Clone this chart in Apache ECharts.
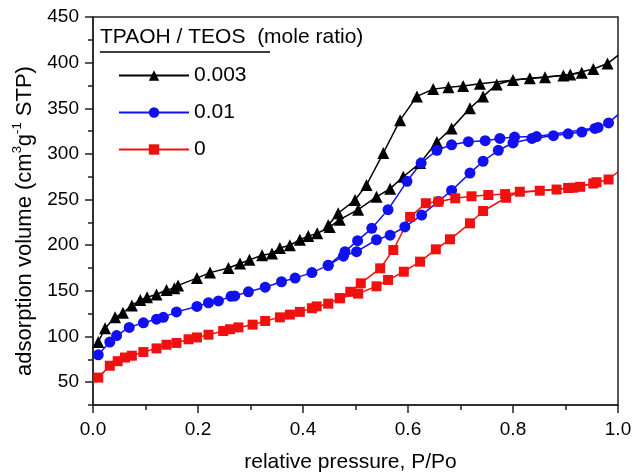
<!DOCTYPE html>
<html>
<head>
<meta charset="utf-8">
<script src="https://cdn.jsdelivr.net/npm/echarts@6/dist/echarts.min.js"></script>
<style>html,body{margin:0;padding:0;background:#fff;}#c{width:633px;height:472px;}</style>
</head>
<body>
<div id="c"></div>
<script>
// ---- data (relative pressure P/Po, adsorbed volume cm3/g STP) ----
const legendNames = ['0.003', '0.01', '0'];
const xTickLabels = ['0.0', '0.2', '0.4', '0.6', '0.8', '1.0'];
const yTickLabels = [50, 100, 150, 200, 250, 300, 350, 400, 450];

// TPAOH/TEOS = 0.003 (black triangles)
const pBlackAds = [0.010,0.023,0.042,0.057,0.074,0.090,0.103,0.121,0.140,0.155,0.162,0.198,0.223,0.258,0.280,0.298,0.322,0.341,0.356,0.375,0.394,0.410,0.427,0.451,0.470,0.505,0.540,0.566,0.591,0.623,0.655,0.683,0.718,0.743,0.769,0.800,0.861,0.909,0.953,0.980,1.000];
const vBlackAds = [94,109,121,126,134,140,143,146,151,153,156,164,170,175,180,184,189,191,197,200,206,210,213,220,228,239,253,262,275,290,313,328,350,363,376,381,384,387,393,399,408];
const pBlackDes = [0.931,0.896,0.832,0.737,0.705,0.677,0.648,0.617,0.585,0.553,0.521,0.499,0.467,0.448];
const vBlackDes = [389,386,383,377,374.5,373,371,363,337,301,266,249.5,235,222];

// TPAOH/TEOS = 0.01 (blue circles)
const pBlueAds = [0.010,0.032,0.045,0.069,0.096,0.121,0.134,0.159,0.198,0.220,0.239,0.263,0.270,0.296,0.328,0.359,0.385,0.417,0.448,0.477,0.502,0.540,0.566,0.594,0.626,0.658,0.683,0.718,0.743,0.772,0.800,0.836,0.877,0.905,0.931,0.956,0.982,1.000];
const vBlueAds = [80,94,101,110,115,119,121,127,133,137,139,144,144.5,149,154,160,164,170,178,188,193,206,211,220,233,248,260,279,292,304,312,317,320,322,324,328,334,343];
const pBlueDes = [0.962,0.845,0.803,0.775,0.747,0.715,0.683,0.655,0.625,0.598,0.562,0.531,0.504,0.480,0.448];
const vBlueDes = [329,319,318.5,317,314.5,313.4,310,304,290,270,239,218.5,205,193,178];

// TPAOH/TEOS = 0 (red squares)
const pRedAds = [0.010,0.032,0.047,0.061,0.074,0.096,0.121,0.140,0.159,0.182,0.198,0.220,0.248,0.261,0.277,0.304,0.328,0.356,0.375,0.394,0.417,0.426,0.448,0.470,0.505,0.540,0.562,0.592,0.623,0.653,0.680,0.718,0.743,0.787,0.813,0.851,0.883,0.915,0.953,0.982,1.000];
const vRedAds = [55,68,73,77,79,83,87,91,93,97,99,102,106,108,110,113,117,121,124,127,131,133,136,142,147,155,162,171,182,195.5,206.5,224,237.5,252,258.6,259.7,261,263,267.6,272,280.5];
const pRedDes = [0.959,0.928,0.905,0.785,0.753,0.721,0.690,0.658,0.634,0.604,0.572,0.547,0.510,0.490,0.470];
const vRedDes = [269,264,262.7,256,255,253.6,251.4,247.7,246,231,194.8,174.7,158.3,149,142];

const FONT = '"Liberation Sans", Arial, Helvetica, sans-serif';

function pts(p, v) {
  return p.map((x, i) => {
    if (x >= 1.0) return { value: [x, v[i]], symbol: 'none' };
    return [x, v[i]];
  });
}

function mk(name, color, symbol, size, p, v) {
  return {
    name: name, type: 'line', data: pts(p, v),
    symbol: symbol, symbolSize: size, showSymbol: true,
    itemStyle: { color: color },
    lineStyle: { color: color, width: 1.5 },
    emphasis: { disabled: true }, animation: false, clip: true, z: 3
  };
}

const chart = echarts.init(document.getElementById('c'), null, { renderer: 'canvas' });

const option = {
  backgroundColor: '#fff',
  animation: false,
  grid: { left: 93, right: 15, top: 17, bottom: 67, show: true, borderColor: '#222', borderWidth: 1.5,
    containLabel: false, outerBoundsMode: 'none' },
  legend: {
    data: legendNames, orient: 'vertical', left: 113, top: 60,
    itemWidth: 70, itemHeight: 13, itemGap: 16,
    textStyle: { fontSize: 21, fontFamily: FONT, color: '#000' },
    selectedMode: false
  },
  graphic: [
    { type: 'text', left: 100, top: 27, style: { text: 'TPAOH / TEOS  (mole ratio)', fontSize: 21, fontFamily: FONT, fill: '#000' } },
    { type: 'line', shape: { x1: 100, y1: 52, x2: 270, y2: 52 }, style: { stroke: '#000', lineWidth: 1.5 } }
  ],
  xAxis: [
    {
      type: 'value', min: 0, max: 1, interval: 0.2, position: 'bottom',
      name: 'relative pressure, P/Po', nameLocation: 'middle', nameGap: 47,
      nameTextStyle: { fontSize: 21, fontFamily: FONT, color: '#000', padding: [0, 10, 0, 0] },
      axisLine: { show: true, lineStyle: { color: '#222', width: 1.5 } },
      axisTick: { show: true, length: 8, lineStyle: { color: '#222', width: 1.5 } },
      axisLabel: { fontSize: 19, fontFamily: FONT, color: '#000', margin: 15,
        formatter: function (v) { return xTickLabels[Math.round(v / 0.2)] || ''; } },
      splitLine: { show: false }
    },
    {
      type: 'value', min: 0, max: 1, interval: 0.1, position: 'bottom',
      axisLine: { show: false }, axisLabel: { show: false }, splitLine: { show: false },
      axisTick: { show: true, length: 5, lineStyle: { color: '#222', width: 1.5 } }
    }
  ],
  yAxis: [
    {
      type: 'value', min: 25, max: 450, interval: 25, position: 'left',
      name: '{n|adsorption volume (cm}{s|3}{n|g}{s|-1}{n| STP)}',
      nameLocation: 'middle', nameGap: 52, nameRotate: 90,
      nameTextStyle: { fontFamily: FONT, color: '#000', padding: [0, 20, 0, 0],
        rich: {
          n: { fontSize: 22, fontFamily: FONT, color: '#000', lineHeight: 25, verticalAlign: 'bottom' },
          s: { fontSize: 13, fontFamily: FONT, color: '#000', lineHeight: 25, verticalAlign: 'top' }
        } },
      axisLine: { show: true, lineStyle: { color: '#222', width: 1.5 } },
      axisTick: { show: true, length: 8, customValues: yTickLabels, lineStyle: { color: '#222', width: 1.5 } },
      axisLabel: { fontSize: 19, fontFamily: FONT, color: '#000', margin: 14,
        formatter: function (v) { return yTickLabels.indexOf(v) >= 0 ? String(v) : ''; } },
      splitLine: { show: false }
    },
    {
      type: 'value', min: 25, max: 450, interval: 25, position: 'left',
      axisLine: { show: false }, axisLabel: { show: false }, splitLine: { show: false },
      axisTick: { show: true, length: 5, lineStyle: { color: '#222', width: 1.5 } }
    }
  ],
  series: [
    mk('0.003', '#000000', 'triangle', 12, pBlackAds, vBlackAds),
    mk('0.003', '#000000', 'triangle', 12, pBlackDes, vBlackDes),
    mk('0.01', '#1010f0', 'circle', 11, pBlueAds, vBlueAds),
    mk('0.01', '#1010f0', 'circle', 11, pBlueDes, vBlueDes),
    mk('0', '#f01010', 'rect', 10, pRedAds, vRedAds),
    mk('0', '#f01010', 'rect', 10, pRedDes, vRedDes)
  ]
};
chart.setOption(option);
</script>
</body>
</html>
